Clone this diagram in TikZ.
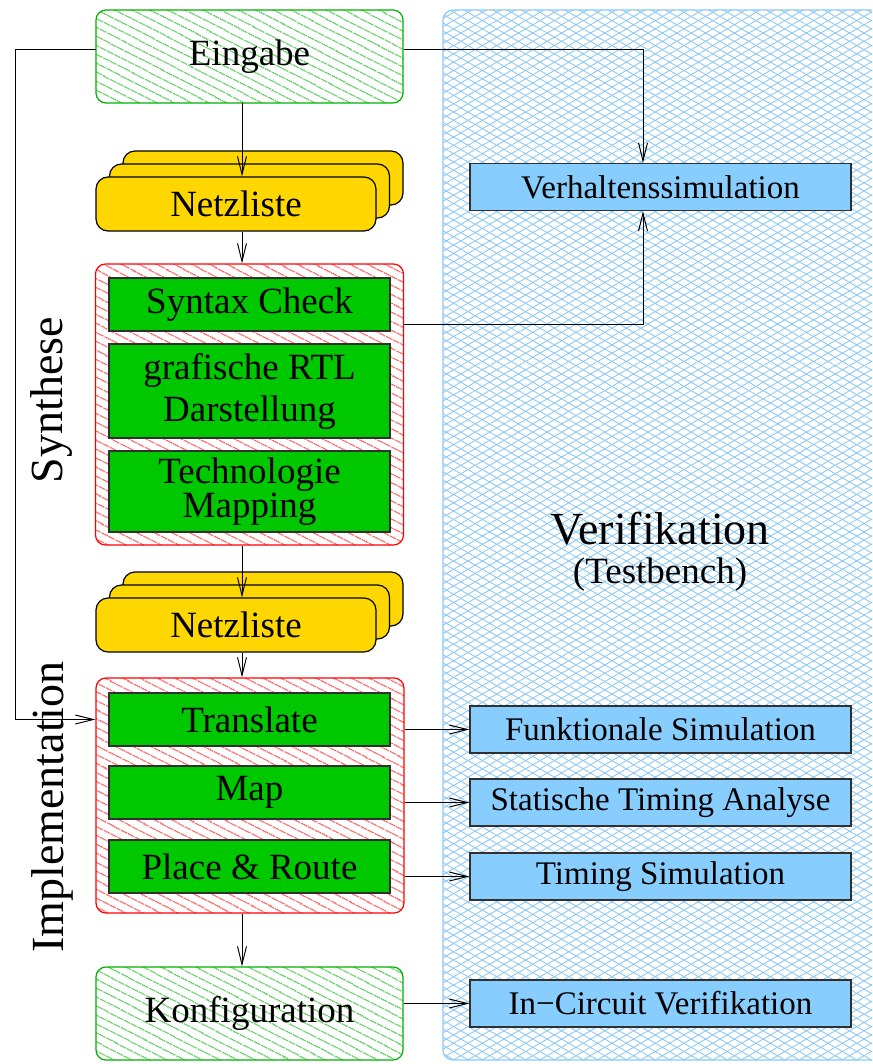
\documentclass[tikz,border=0pt]{standalone}
\usepackage{fontspec}
\setmainfont{Liberation Serif}
\usetikzlibrary{positioning,arrows.meta,patterns.meta,calc}
\definecolor{flgreen}{HTML}{00C800}
\definecolor{flhatch}{HTML}{00B000}
\definecolor{flred}{HTML}{FF0000}
\definecolor{flgold}{HTML}{FFD700}
\definecolor{flsky}{HTML}{87CEFF}
\definecolor{flmesh}{HTML}{8CC8F5}
\definecolor{flline}{HTML}{303030}

\begin{document}
\begin{tikzpicture}[x=0.5pt,y=-0.5pt,
  font=\fontsize{18.5}{21}\selectfont,
  hatched/.style={rounded corners=5pt,line width=0.6pt,inner sep=0pt,
                  pattern={Lines[angle=-27,distance=4pt,line width=0.5pt]}},
  endbox/.style={hatched,draw=flhatch,pattern color=flhatch,
                 minimum width=153.5pt,minimum height=46.5pt},
  phase/.style={hatched,draw=flred,pattern color=flred,minimum width=154pt},
  card/.style={rounded corners=6pt,draw=black,fill=flgold,line width=0.6pt,
               minimum width=140pt,minimum height=27pt,inner sep=0pt},
  stage/.style={draw=flline,fill=flgreen,line width=0.6pt,inner sep=0pt,
                minimum width=140.5pt,align=center},
  check/.style={draw=flline,fill=flsky,line width=0.6pt,inner sep=0pt,
                minimum width=190.5pt,minimum height=23.5pt,
                font=\fontsize{16.5}{19}\selectfont},
  meshA/.style={pattern={Lines[angle=30,distance=3.6pt,line width=0.45pt]},pattern color=flmesh},
  meshB/.style={pattern={Lines[angle=-30,distance=3.6pt,line width=0.45pt]},pattern color=flmesh},
  big/.style={font=\fontsize{23}{27}\selectfont},
  arr/.style={-{Straight Barb[length=9pt,width=4.5pt]},line width=0.5pt,black}]

\clip (0,0) rectangle (872,1064);

% ---- Verifikation (right column, mesh background) ----
\draw[meshA,draw=flmesh,line width=0.6pt,rounded corners=5pt] (443,10) rectangle (885,1060);
\path[meshB,rounded corners=5pt] (443,10) rectangle (885,1060);
\node[big,anchor=base] (verif) at (660,544) {Verifikation};
\node[anchor=base] (tbench) at (660,583) {(Testbench)};

\node[check] (verh)  at (660.5,187)    {Verhaltenssimulation};
\node[check] (funk)  at (660.5,729.5)  {Funktionale Simulation};
\node[check] (sta)   at (660.5,802.5)  {Statische Timing Analyse};
\node[check] (tsim)  at (660.5,876.5)  {Timing Simulation};
\node[check] (incir) at (660.5,1003.5) {In−Circuit Verifikation};

% ---- Eingabe and first netlist ----
\node[endbox] (eingabe) at (249.5,56.5) {Eingabe};
\node[card] (net1c) at (263,178) {};
\node[card] (net1b) at (249.5,191) {};
\node[card] (net1)  at (236,204) {Netzliste};

% ---- Synthese ----
\node[phase,minimum height=140.5pt] (synth) at (249.5,404.5) {};
\node[stage,minimum height=26.5pt] (syntax) at (249.5,304.5) {Syntax Check};
\node[stage,minimum height=47pt] (rtl) at (249.5,391) {grafische RTL\\Darstellung};
\node[stage,minimum height=40.5pt] (techmap) at (249.5,491.5) {Technologie\\[-4pt]Mapping};
\node[big,rotate=90] (synlbl) at (52,400) {Synthese};

% ---- second netlist ----
\node[card] (net2c) at (263,599) {};
\node[card] (net2b) at (249.5,612) {};
\node[card] (net2)  at (236,625) {Netzliste};

% ---- Implementation ----
\node[phase,minimum height=117.5pt] (impl) at (250,795.5) {};
\node[stage,minimum height=26.5pt] (trans) at (249.5,719.5) {Translate};
\node[stage,minimum height=26.5pt] (map)   at (249.5,792.5) {Map};
\node[stage,minimum height=26.5pt] (par)   at (249.5,866.5) {Place \& Route};
\node[big,rotate=90] (impllbl) at (52,807) {Implementation};

\node[endbox] (konf) at (249.5,1013.5) {Konfiguration};

% ---- main flow ----
\coordinate (spine) at (242,0);
\coordinate (rail)  at (15,0);
\coordinate (vtap)  at (643,0);
\draw[arr] (eingabe.south -| spine) -- (net1.north -| spine);
\draw[arr] (net1.south -| spine) -- (synth.north -| spine);
\draw[arr] (synth.south -| spine) -- (net2.north -| spine);
\draw[arr] (net2.south -| spine) -- (impl.north -| spine);
\draw[arr] (impl.south -| spine) -- (konf.north -| spine);

% ---- side paths ----
\draw[arr] ([yshift=3.25pt]eingabe.east) -| (verh.north -| vtap);
\draw[arr] ([yshift=3.25pt]eingabe.west) -| (rail |- trans) -- (trans -| impl.west);
\draw[arr] ($(syntax.east -| synth.east)+(0,19.5)$) -| (verh.south -| vtap);

\draw[arr] (funk.west -| impl.east) -- (funk.west);
\draw[arr] (sta.west -| impl.east) -- (sta.west);
\draw[arr] (tsim.west -| impl.east) -- (tsim.west);
\draw[arr] (incir.west -| konf.east) -- (incir.west);
\end{tikzpicture}
\end{document}
